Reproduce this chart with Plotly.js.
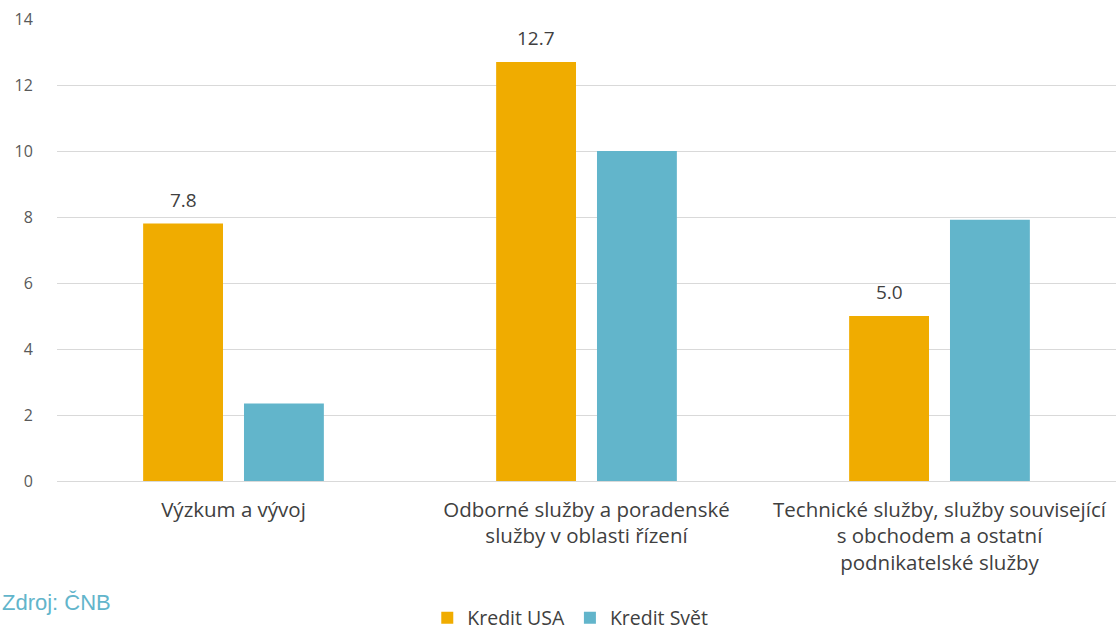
<!DOCTYPE html>
<html>
<head>
<meta charset="utf-8">
<script src="https://cdn.plot.ly/plotly-3.0.1.min.js"></script>
<style>html,body{margin:0;padding:0;background:#fff;}#chart{width:1116px;height:632px;}</style>
</head>
<body>
<div id="chart"></div>
<script>
const categories = [
  "Výzkum a vývoj",
  "Odborné služby a poradenské<br>služby v oblasti řízení",
  "Technické služby, služby související<br>s obchodem a ostatní<br>podnikatelské služby"
];
const seriesNames = ["Kredit USA", "Kredit Svět"];
const kreditUSA = [7.8, 12.7, 5.0];
const kreditSvet = [2.35, 10.0, 7.92];
const usaLabels = ["7.8", "12.7", "5.0"];
const yTicks = [0, 2, 4, 6, 8, 10, 12, 14];
const sourceText = "Zdroj: ČNB";

const fontMain = "Open Sans, Lato, sans-serif";

const traces = [
  {type: "bar", name: seriesNames[0], x: categories, y: kreditUSA,
   marker: {color: "#F0AC00"}, hoverinfo: "y"},
  {type: "bar", name: seriesNames[1], x: categories, y: kreditSvet,
   marker: {color: "#62B5CB"}, hoverinfo: "y"}
];

const annotations = categories.map((c, i) => ({
  x: c, y: kreditUSA[i], xref: "x", yref: "y",
  text: usaLabels[i], showarrow: false,
  xshift: -50.5, yshift: 24, yanchor: "middle",
  font: {family: fontMain, size: 19, color: "#404040"}
}));
annotations.push({
  xref: "paper", yref: "paper", x: -0.0538, y: -0.264,
  xanchor: "left", yanchor: "middle", showarrow: false,
  text: sourceText,
  font: {family: "Liberation Sans, Arial, sans-serif", size: 22, color: "#62B5CB"}
});

const layout = {
  width: 1116, height: 632,
  margin: {l: 57, r: 0, t: 19, b: 151},
  paper_bgcolor: "#fff", plot_bgcolor: "#fff",
  barmode: "group", bargap: 0.4286, bargroupgap: 0.208,
  showlegend: true,
  legend: {orientation: "h", xref: "container", yref: "container",
           x: 0.511, xanchor: "center", y: 0.022, yanchor: "middle",
           font: {family: fontMain, size: 19.5, color: "#404040"},
           itemwidth: 30, tracegroupgap: 0},
  xaxis: {type: "category", showgrid: false, zeroline: false, showline: false,
          ticks: "outside", ticklen: 10, tickcolor: "rgba(0,0,0,0)",
          tickfont: {family: fontMain, size: 20.5, color: "#404040"}},
  yaxis: {range: [0, 14], tickvals: yTicks, ticktext: yTicks.map(String),
          showgrid: true, gridcolor: "#D9D9D9", gridwidth: 1.3,
          zeroline: true, zerolinecolor: "#D9D9D9", zerolinewidth: 1.3,
          showline: false, ticks: "outside", ticklen: 20, tickcolor: "rgba(0,0,0,0)",
          tickfont: {family: fontMain, size: 16, color: "#595959"}},
  annotations: annotations,
  font: {family: fontMain}
};

Plotly.newPlot("chart", traces, layout, {displayModeBar: false, responsive: false});
</script>
</body>
</html>
